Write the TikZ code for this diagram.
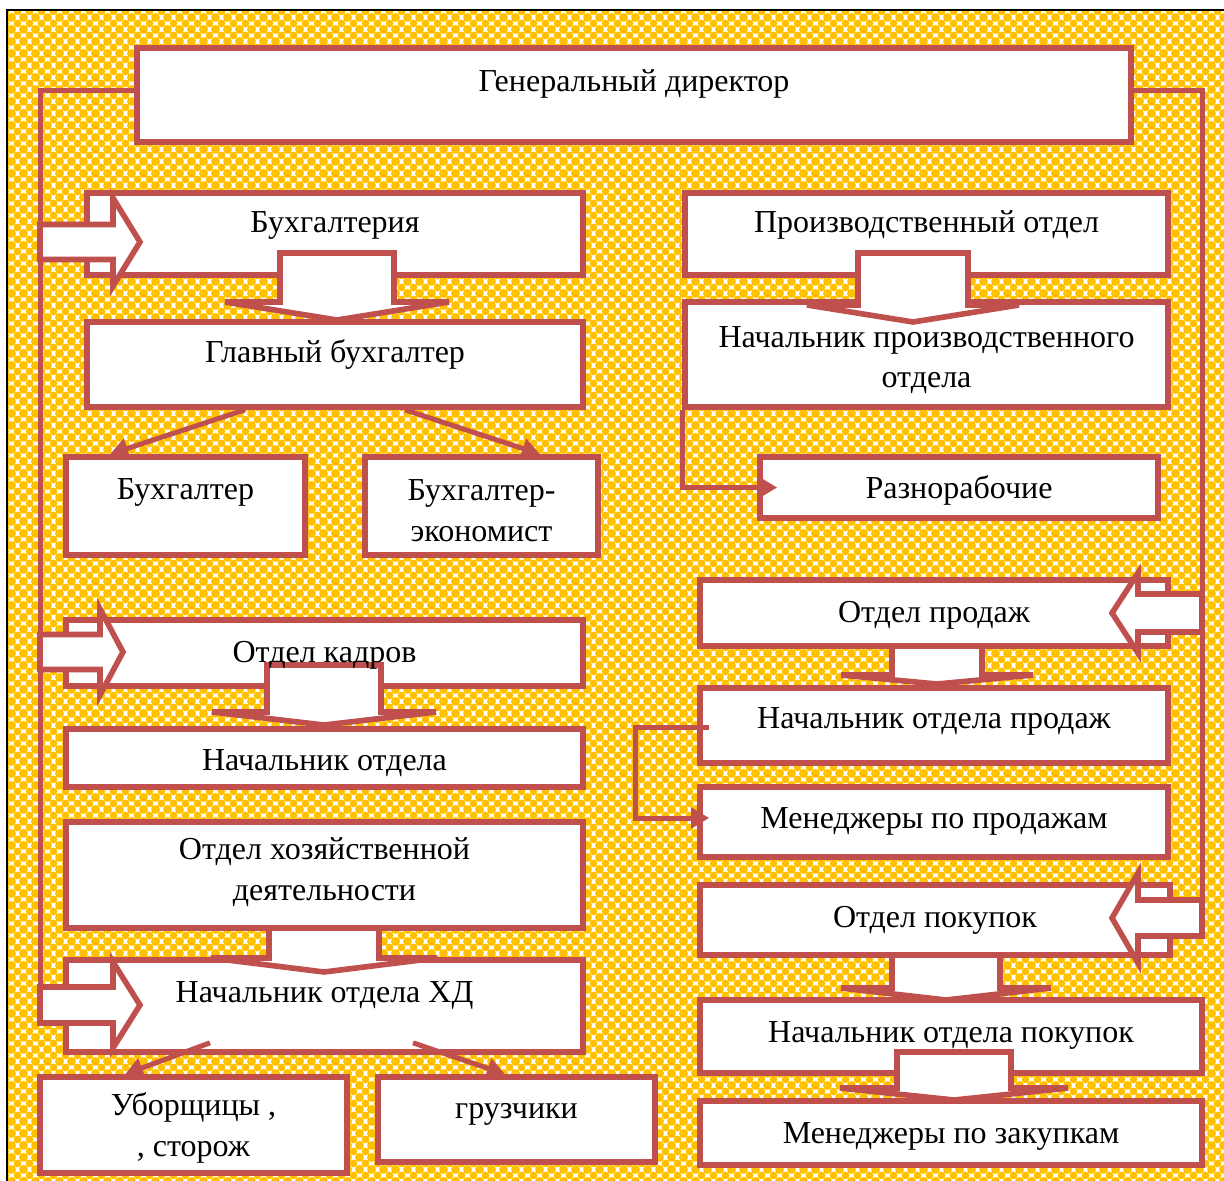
\documentclass[tikz,border=0pt]{standalone}
\usepackage{fontspec}
\setmainfont{Liberation Serif}
\usetikzlibrary{arrows.meta,fit,patterns,calc}

\definecolor{boxred}{HTML}{C0504D}
\definecolor{gold}{HTML}{FFC000}

% background dots
\pgfdeclarepatternformonly{golddots}{\pgfpointorigin}{\pgfqpoint{6pt}{6pt}}{\pgfqpoint{6pt}{6pt}}{%
  \pgfpathcircle{\pgfqpoint{0pt}{0pt}}{2.1pt}
  \pgfpathcircle{\pgfqpoint{6pt}{0pt}}{2.1pt}
  \pgfpathcircle{\pgfqpoint{0pt}{6pt}}{2.1pt}
  \pgfpathcircle{\pgfqpoint{6pt}{6pt}}{2.1pt}
  \pgfpathcircle{\pgfqpoint{3pt}{3pt}}{2.1pt}
  \pgfusepath{fill}}

\newcommand{\orgfont}{\fontsize{16}{20.5}\selectfont}

\tikzset{
  unitbox/.style={draw=boxred, line width=2.8pt, fill=white, inner sep=0pt},
  lbl/.style={font=\orgfont, anchor=base, inner sep=0pt, align=center},
  link/.style={draw=boxred, line width=2.5pt},
  tipline/.style={link, -{Triangle[length=9pt,width=10pt]}},
  blockarrow/.style={draw=boxred, line width=2.8pt, fill=white},
}

% x centre, shaft top, head base, tip, half shaft, half head
\newcommand{\downblock}[6]{%
  \draw[blockarrow] ({#1-#5},#2) -- ({#1+#5},#2) -- ({#1+#5},#3) -- ({#1+#6},#3)
    -- (#1,#4) -- ({#1-#6},#3) -- ({#1-#5},#3) -- cycle;}
% shaft start x, head base x, tip x, centre y, half shaft, half head
\newcommand{\sideblock}[6]{%
  \draw[blockarrow] (#1,{#4-#5}) -- (#2,{#4-#5}) -- (#2,{#4-#6}) -- (#3,#4)
    -- (#2,{#4+#6}) -- (#2,{#4+#5}) -- (#1,{#4+#5}) -- cycle;}

\begin{document}
\begin{tikzpicture}[x=0.5pt, y=-0.5pt]
  \useasboundingbox (0,0) rectangle (1224,1181);
  \fill[white] (0,0) rectangle (1224,1181);
  \fill[pattern=golddots, pattern color=gold] (7,10) rectangle (1224,1181);
  \draw[line width=0.8pt] (7,1181) -- (7,10) -- (1224,10);

  % boxes
  \node[unitbox, fit={(137,48) (1131,142)}] (gd) {};
  \node[unitbox, fit={(87,193) (583,275)}] (buh) {};
  \node[unitbox, fit={(685,193) (1168,275)}] (prod) {};
  \node[unitbox, fit={(87,322) (583,407)}] (glav) {};
  \node[unitbox, fit={(685,302) (1168,407)}] (np) {};
  \node[unitbox, fit={(66,457) (305,555)}] (buh1) {};
  \node[unitbox, fit={(365,457) (598,555)}] (buhe) {};
  \node[unitbox, fit={(760,457) (1158,518)}] (razn) {};
  \node[unitbox, fit={(66,620) (583,686)}] (kadr) {};
  \node[unitbox, fit={(66,729) (583,787)}] (nk) {};
  \node[unitbox, fit={(66,822) (583,928)}] (hd) {};
  \node[unitbox, fit={(66,960) (583,1052)}] (nhd) {};
  \node[unitbox, fit={(40,1077) (347,1173)}] (ub) {};
  \node[unitbox, fit={(378,1077) (655,1162)}] (gr) {};
  \node[unitbox, fit={(700,580) (1168,646)}] (sales) {};
  \node[unitbox, fit={(700,688) (1168,763)}] (nsp) {};
  \node[unitbox, fit={(700,787) (1168,857)}] (msp) {};
  \node[unitbox, fit={(700,885) (1170,955)}] (buy) {};
  \node[unitbox, fit={(700,1000) (1202,1073)}] (nbuy) {};
  \node[unitbox, fit={(700,1101) (1202,1165)}] (mbuy) {};

  % buses from the director
  \coordinate (lbus) at (40,987);
  \coordinate (rbus) at (1202,900);
  \draw[link] ([yshift=2pt]gd.west) -| (lbus);
  \draw[link] ([yshift=2pt]gd.east) -| (rbus);

  % wide arrows
  \sideblock{40}{113}{140}{242}{17.5}{44}
  \sideblock{40}{100}{123}{652}{17.5}{43}
  \sideblock{40}{113}{140}{1005}{18}{43}
  \sideblock{1202}{1138}{1112}{613}{19}{40}
  \sideblock{1202}{1138}{1112}{918}{18}{45}
  \downblock{337}{253}{302}{320}{57}{112}
  \downblock{913}{253}{305}{322}{55}{106}
  \downblock{324}{665}{712}{725}{57}{112}
  \downblock{324}{928}{958}{972}{55}{113}
  \downblock{937}{646}{675}{684}{45}{96}
  \downblock{946}{955}{988}{1000}{54}{105}
  \downblock{954}{1052}{1088}{1100}{57}{114}

  % thin arrows
  \draw[tipline] (glav.south -| 245,0) -- (buh1.north -| 110,0);
  \draw[tipline] (glav.south -| 405,0) -- (buhe.north -| 540,0);
  \draw[tipline] ($(nhd.south -| 210,0)+(0,-12)$) -- (ub.north -| 125,0);
  \draw[tipline] ($(nhd.south -| 413,0)+(0,-12)$) -- (gr.north -| 505,0);
  \draw[tipline] (np.south west) |- ($(razn.west)+(20,0)$);
  \draw[tipline] ($(nsp.west)+(12,2)$) -- ++(-74,0) |- ($(msp.west)+(12,-4)$);

  % texts (two-line ones sit on their last line)
  \node[lbl] (gd-t) at (gd.center |- 0,92) {Генеральный директор};
  \node[lbl] (buh-t) at (buh.center |- 0,233) {Бухгалтерия};
  \node[lbl] (prod-t) at (prod.center |- 0,233) {Производственный отдел};
  \node[lbl] (glav-t) at (glav.center |- 0,363) {Главный бухгалтер};
  \node[lbl] (np-t) at (np.center |- 0,388) {Начальник производственного\\отдела};
  \node[lbl] (buh1-t) at (buh1.center |- 0,499) {Бухгалтер};
  \node[lbl] (buhe-t) at (buhe.center |- 0,541) {Бухгалтер-\\экономист};
  \node[lbl] (razn-t) at (razn.center |- 0,498) {Разнорабочие};
  \node[lbl] (kadr-t) at (kadr.center |- 0,662) {Отдел кадров};
  \node[lbl] (nk-t) at (nk.center |- 0,770) {Начальник отдела};
  \node[lbl] (hd-t) at (hd.center |- 0,900) {Отдел хозяйственной\\деятельности};
  \node[lbl] (nhd-t) at (nhd.center |- 0,1002) {Начальник отдела ХД};
  \node[lbl] (ub-t) at (ub.center |- 0,1156) {Уборщицы ,\\, сторож};
  \node[lbl] (gr-t) at (gr.center |- 0,1118) {грузчики};
  \node[lbl] (sales-t) at (sales.center |- 0,622) {Отдел продаж};
  \node[lbl] (nsp-t) at (nsp.center |- 0,728) {Начальник отдела продаж};
  \node[lbl] (msp-t) at (msp.center |- 0,828) {Менеджеры по продажам};
  \node[lbl] (buy-t) at (buy.center |- 0,927) {Отдел покупок};
  \node[lbl] (nbuy-t) at (nbuy.center |- 0,1042) {Начальник отдела покупок};
  \node[lbl] (mbuy-t) at (mbuy.center |- 0,1143) {Менеджеры по закупкам};
\end{tikzpicture}
\end{document}
